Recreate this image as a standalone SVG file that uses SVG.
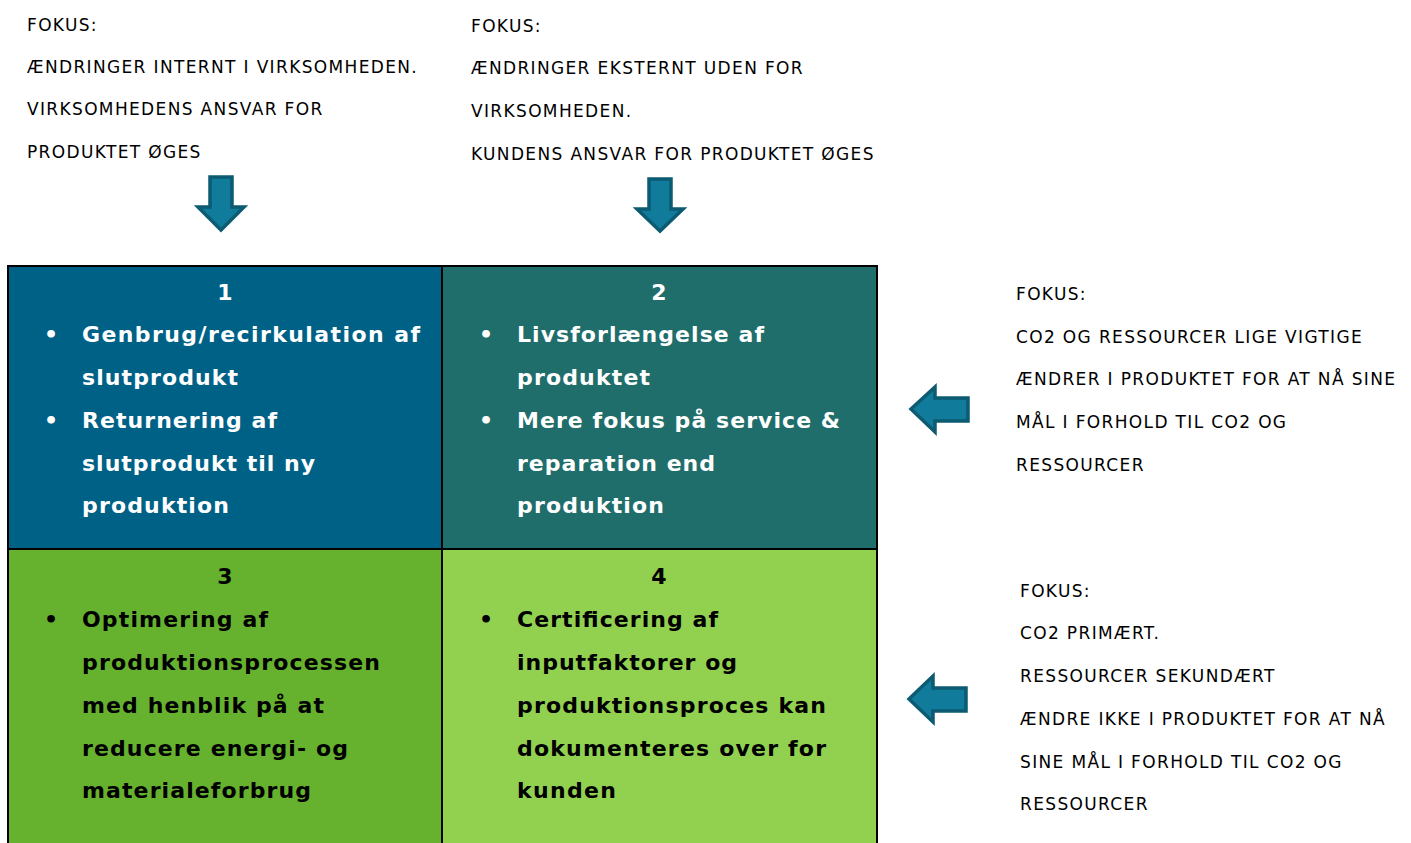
<svg xmlns="http://www.w3.org/2000/svg" width="1411" height="843" viewBox="0 0 1411 843">
<style>
.s{font-family:"DejaVu Sans",Verdana,sans-serif;font-size:17px;letter-spacing:1.35px;fill:#000}
.b{font-family:"DejaVu Sans",Verdana,sans-serif;font-size:22px;font-weight:bold}
.w{fill:#fff}
.k{fill:#000}
.arr{fill:#117b9b;stroke:#0d5b72;stroke-width:3.5;stroke-linejoin:miter}
</style>
<rect width="1411" height="843" fill="#fff"/>
<g id="note-top-left">
<text class="s" x="27" y="31">FOKUS:</text>
<text class="s" x="27" y="73">ÆNDRINGER INTERNT I VIRKSOMHEDEN.</text>
<text class="s" x="27" y="115">VIRKSOMHEDENS ANSVAR FOR</text>
<text class="s" x="27" y="158">PRODUKTET ØGES</text>
</g>
<g id="note-top-mid">
<text class="s" x="471" y="32">FOKUS:</text>
<text class="s" x="471" y="74">ÆNDRINGER EKSTERNT UDEN FOR</text>
<text class="s" x="471" y="117">VIRKSOMHEDEN.</text>
<text class="s" x="471" y="160">KUNDENS ANSVAR FOR PRODUKTET ØGES</text>
</g>
<g id="note-right-1">
<text class="s" x="1016" y="300">FOKUS:</text>
<text class="s" x="1016" y="343">CO2 OG RESSOURCER LIGE VIGTIGE</text>
<text class="s" x="1016" y="385">ÆNDRER I PRODUKTET FOR AT NÅ SINE</text>
<text class="s" x="1016" y="428">MÅL I FORHOLD TIL CO2 OG</text>
<text class="s" x="1016" y="471">RESSOURCER</text>
</g>
<g id="note-right-2">
<text class="s" x="1020" y="597">FOKUS:</text>
<text class="s" x="1020" y="639">CO2 PRIMÆRT.</text>
<text class="s" x="1020" y="682">RESSOURCER SEKUNDÆRT</text>
<text class="s" x="1020" y="725">ÆNDRE IKKE I PRODUKTET FOR AT NÅ</text>
<text class="s" x="1020" y="768">SINE MÅL I FORHOLD TIL CO2 OG</text>
<text class="s" x="1020" y="810">RESSOURCER</text>
</g>
<g id="connectors">
<path class="arr" d="M210,177 H232 V207 H244 L221,230 L198,207 H210 Z"/>
<path class="arr" d="M649,179 H671 V209 H683 L660,231 L637,209 H649 Z"/>
<path class="arr" d="M968,398 V421 H935 V432 L911,409 L935,387 V398 Z"/>
<path class="arr" d="M966,688 V711 H933 V722 L909,699 L933,676 V688 Z"/>
</g>
<g id="q1">
<rect x="8" y="266" width="434" height="283" fill="#006187"/>
<text class="b w" x="225" y="300" text-anchor="middle">1</text>
<text class="b w" x="44" y="342">•</text>
<text class="b w" x="82" y="342" textLength="338" lengthAdjust="spacing">Genbrug/recirkulation af</text>
<text class="b w" x="82" y="385" textLength="156" lengthAdjust="spacing">slutprodukt</text>
<text class="b w" x="44" y="428">•</text>
<text class="b w" x="82" y="428" textLength="195" lengthAdjust="spacing">Returnering af</text>
<text class="b w" x="82" y="471" textLength="233" lengthAdjust="spacing">slutprodukt til ny</text>
<text class="b w" x="82" y="513" textLength="147" lengthAdjust="spacing">produktion</text>
</g>
<g id="q2">
<rect x="442" y="266" width="435" height="283" fill="#1f6e6b"/>
<text class="b w" x="659" y="300" text-anchor="middle">2</text>
<text class="b w" x="479" y="342">•</text>
<text class="b w" x="517" y="342" textLength="247" lengthAdjust="spacing">Livsforlængelse af</text>
<text class="b w" x="517" y="385" textLength="133" lengthAdjust="spacing">produktet</text>
<text class="b w" x="479" y="428">•</text>
<text class="b w" x="517" y="428" textLength="323" lengthAdjust="spacing">Mere fokus på service &amp;</text>
<text class="b w" x="517" y="471" textLength="198" lengthAdjust="spacing">reparation end</text>
<text class="b w" x="517" y="513" textLength="147" lengthAdjust="spacing">produktion</text>
</g>
<g id="q3">
<rect x="8" y="549" width="434" height="294" fill="#66b22e"/>
<text class="b k" x="225" y="584" text-anchor="middle">3</text>
<text class="b k" x="44" y="627">•</text>
<text class="b k" x="82" y="627" textLength="186" lengthAdjust="spacing">Optimering af</text>
<text class="b k" x="82" y="670" textLength="298" lengthAdjust="spacing">produktionsprocessen</text>
<text class="b k" x="82" y="713" textLength="242" lengthAdjust="spacing">med henblik på at</text>
<text class="b k" x="82" y="756" textLength="266" lengthAdjust="spacing">reducere energi- og</text>
<text class="b k" x="82" y="798" textLength="229" lengthAdjust="spacing">materialeforbrug</text>
</g>
<g id="q4">
<rect x="442" y="549" width="435" height="294" fill="#92d050"/>
<text class="b k" x="659" y="584" text-anchor="middle">4</text>
<text class="b k" x="479" y="627">•</text>
<text class="b k" x="517" y="627" textLength="201" lengthAdjust="spacing">Certificering af</text>
<text class="b k" x="517" y="670" textLength="220" lengthAdjust="spacing">inputfaktorer og</text>
<text class="b k" x="517" y="713" textLength="309" lengthAdjust="spacing">produktionsproces kan</text>
<text class="b k" x="517" y="756" textLength="309" lengthAdjust="spacing">dokumenteres over for</text>
<text class="b k" x="517" y="798" textLength="99" lengthAdjust="spacing">kunden</text>
</g>
<g id="grid" fill="none" stroke="#000" stroke-width="2">
<path d="M8,844 V266 H877 V844"/>
<path d="M442,266 V844"/>
<path d="M8,549 H877"/>
</g>
</svg>
